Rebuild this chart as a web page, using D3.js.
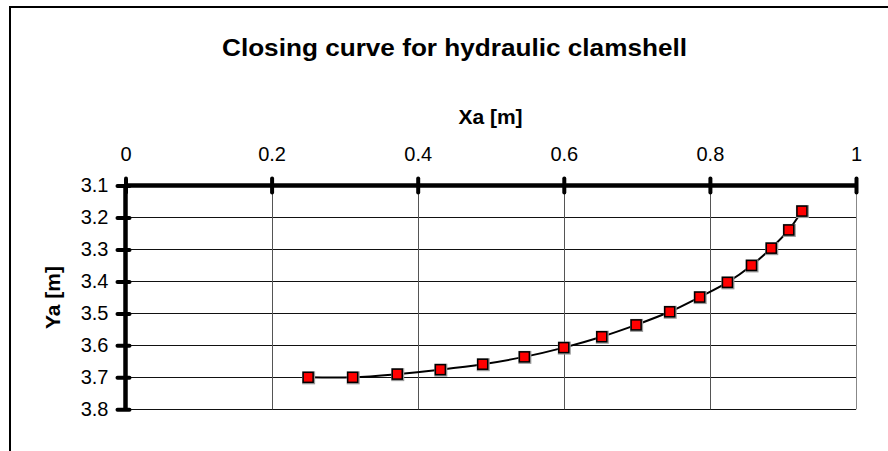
<!DOCTYPE html>
<html>
<head>
<meta charset="utf-8">
<script src="https://cdn.jsdelivr.net/npm/d3@7"></script>
<style>
  body { margin: 0; background: #fff; }
  text { font-family: Arial, "Liberation Sans", sans-serif; fill: #000; }
</style>
</head>
<body>
<script>
const xa = [0.250, 0.311, 0.372, 0.431, 0.489, 0.546, 0.600, 0.652, 0.699, 0.745, 0.786, 0.824, 0.857, 0.884, 0.908, 0.926];
const ya = [3.700, 3.700, 3.690, 3.676, 3.659, 3.636, 3.607, 3.573, 3.536, 3.495, 3.449, 3.403, 3.350, 3.296, 3.239, 3.180];
const xTicks = [0, 0.2, 0.4, 0.6, 0.8, 1];
const yTicks = [3.1, 3.2, 3.3, 3.4, 3.5, 3.6, 3.7, 3.8];

const width = 888, height = 451;
const points = xa.map((x, i) => ({ x: x, y: ya[i] }));

const svg = d3.select('body').append('svg')
  .attr('width', width)
  .attr('height', height)

// frame (only top and left edges show)
svg.append('path')
  .attr('d', 'M10,' + height + 'V7H' + width)
  .attr('fill', 'none')
  .attr('stroke', '#000')
  .attr('stroke-width', 2)

const x = d3.scaleLinear().domain([0, 1]).range([125.5, 856]);
const y = d3.scaleLinear().domain([3.1, 3.8]).range([185.5, 409.3]);

svg.append('text')
  .attr('x', 454.5)
  .attr('y', 56)
  .attr('text-anchor', 'middle')
  .attr('textLength', 465)
  .attr('lengthAdjust', 'spacingAndGlyphs')
  .style('font-size', '24px')
  .style('font-weight', 'bold')
  .text('Closing curve for hydraulic clamshell')

svg.append('text')
  .attr('x', 490.5)
  .attr('y', 124)
  .attr('text-anchor', 'middle')
  .style('font-size', '21px')
  .style('font-weight', 'bold')
  .text('Xa [m]')

svg.append('text')
  .attr('transform', 'translate(60,297.5) rotate(-90)')
  .attr('text-anchor', 'middle')
  .style('font-size', '21px')
  .style('font-weight', 'bold')
  .text('Ya [m]')

// grid
svg.append('g')
  .selectAll('line')
  .data(yTicks.slice(1))
  .enter().append('line')
  .attr('x1', x(0)).attr('x2', x(1))
  .attr('y1', d => Math.round(y(d)) + 0.5)
  .attr('y2', d => Math.round(y(d)) + 0.5)
  .attr('stroke', '#111')
  .attr('stroke-width', 1)

svg.append('g')
  .selectAll('line')
  .data(xTicks.slice(1))
  .enter().append('line')
  .attr('x1', d => Math.round(x(d)) + 0.5)
  .attr('x2', d => Math.round(x(d)) + 0.5)
  .attr('y1', y(3.1)).attr('y2', y(3.8))
  .attr('stroke', d => d === 1 ? '#888' : '#555')
  .attr('stroke-width', 1)

// top x axis
const xAxis = svg.append('g')
  .attr('transform', 'translate(0,' + y(3.1) + ')')
  .call(d3.axisTop(x).tickValues(xTicks).tickSize(0).tickPadding(25)
    .tickFormat(d => d3.format('')(d)))
xAxis.select('.domain').remove()
xAxis.selectAll('text').style('font-size', '20px').attr('fill', '#000')

xAxis.selectAll('.tick').append('line')
  .attr('y1', -7).attr('y2', 7)
  .attr('stroke', '#000').attr('stroke-width', 4).attr('stroke-linecap', 'round')

xAxis.append('line')
  .attr('x1', x(0)).attr('x2', x(1))
  .attr('stroke', '#000').attr('stroke-width', 4.5)

// left y axis
const yAxis = svg.append('g')
  .attr('transform', 'translate(' + x(0) + ',0)')
  .call(d3.axisLeft(y).tickValues(yTicks).tickSize(0).tickPadding(17)
    .tickFormat(d3.format('.1f')))
yAxis.select('.domain').remove()
yAxis.selectAll('text').style('font-size', '20px').attr('fill', '#000')

yAxis.selectAll('.tick').append('line')
  .attr('x1', -8).attr('x2', 4)
  .attr('stroke', '#000').attr('stroke-width', 4).attr('stroke-linecap', 'round')

yAxis.append('line')
  .attr('y1', y(3.1)).attr('y2', y(3.8))
  .attr('stroke', '#000').attr('stroke-width', 4.5)

// curve
const line = d3.line()
  .x(d => x(d.x))
  .y(d => y(d.y))
  .curve(d3.curveCatmullRom)

svg.append('path')
  .datum(points)
  .attr('d', line)
  .attr('fill', 'none')
  .attr('stroke', '#000')
  .attr('stroke-width', 2)

const marks = svg.append('g')
  .selectAll('g')
  .data(points)
  .enter().append('g')
  .attr('transform', d => 'translate(' + x(d.x) + ',' + y(d.y) + ')')

marks.append('rect')
  .attr('x', -6).attr('y', -6)
  .attr('width', 13).attr('height', 13)
  .attr('fill', '#999')

marks.append('rect')
  .attr('x', -5).attr('y', -5)
  .attr('width', 10).attr('height', 10)
  .attr('fill', '#ff0000')
  .attr('stroke', '#000')
  .attr('stroke-width', 1.5)
</script>
</body>
</html>
